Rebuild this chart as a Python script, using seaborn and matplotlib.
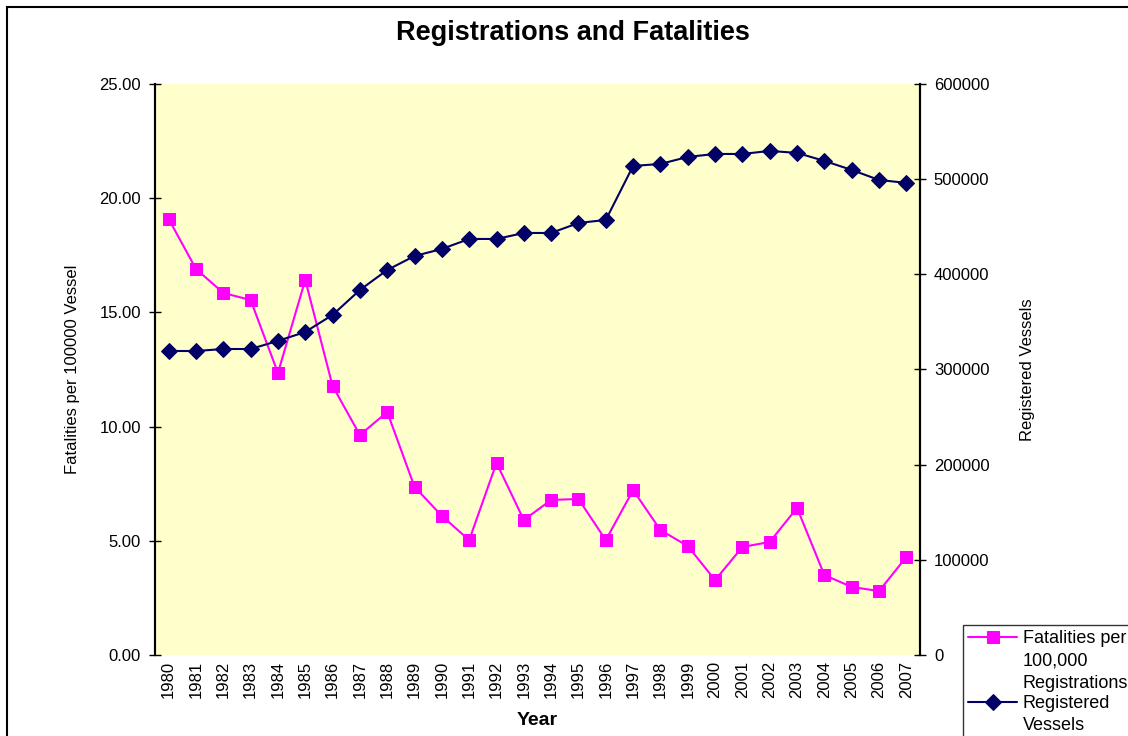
from matplotlib import pyplot as plt
from matplotlib.patches import Rectangle
import numpy as np
import seaborn as sns
import pandas as pd

# values
years = [str(y) for y in range(1980, 2008)]
fatalities = [19.09, 16.90, 15.85, 15.54, 12.35, 16.42, 11.78, 9.63, 10.64, 7.36,
              6.09, 5.03, 8.41, 5.91, 6.79, 6.83, 5.03, 7.22, 5.47, 4.77,
              3.28, 4.73, 4.95, 6.44, 3.50, 2.98, 2.80, 4.29]
registered = [319400, 319400, 321500, 321500, 330000, 339400, 357300, 383500, 404500, 419200,
              426600, 437100, 437100, 443400, 443400, 453900, 457100, 513800, 515900, 523300,
              526400, 526400, 529600, 527500, 519100, 509600, 499100, 496000]

df = pd.DataFrame({'Year': years, 'Fatalities': fatalities, 'Registered': registered})
df['pos'] = np.arange(len(years))

sns.set_style('white')
plt.rcParams['font.family'] = ['Liberation Sans', 'DejaVu Sans']
#seaborn greys out the text, reference is plain black
for key in ['text.color', 'axes.labelcolor', 'xtick.color', 'ytick.color']:
    plt.rcParams[key] = 'black'

fig = plt.figure(figsize=(11.28, 7.36), dpi=100)
ax = fig.add_axes([0.1374, 0.110, 0.6782, 0.776])
ax.set_facecolor('#FFFFCC')
ax2 = ax.twinx()

#Fatalities on the left axis, vessels on the right
sns.lineplot(data=df, x='pos', y='Fatalities', ax=ax, color='#FF00FF', marker='s',
             markersize=9, markeredgecolor='#FF00FF', linewidth=1.5,
             label='Fatalities per\n100,000\nRegistrations', legend=False)
sns.lineplot(data=df, x='pos', y='Registered', ax=ax2, color='#000066', marker='D',
             markersize=8, markeredgecolor='#000066', linewidth=1.5,
             label='Registered\nVessels', legend=False)

ax.set_xlim(-0.5, len(years) - 0.5)
ax.set_ylim(0, 25)
ax2.set_ylim(0, 600000)
ax.set_yticks(np.arange(0, 26, 5))
ax.set_yticklabels(['%.2f' % v for v in np.arange(0, 26, 5)], fontsize=12)
ax2.set_yticks(np.arange(0, 600001, 100000))
ax2.set_yticklabels([str(v) for v in range(0, 600001, 100000)], fontsize=12)
ax.set_xticks(df['pos'])
ax.set_xticklabels(years, rotation=90, fontsize=12)

ax.tick_params(axis='y', direction='inout', length=8, width=1, left=True, pad=6)
ax.tick_params(axis='x', which='major', length=0, pad=4)
ax2.tick_params(axis='y', direction='inout', length=8, width=1, right=True, pad=6)

for a in (ax, ax2):
    for s in a.spines.values():
        s.set_visible(False)
    a.spines['left'].set_visible(True)
    a.spines['right'].set_visible(True)
    a.spines['left'].set_color('black')
    a.spines['right'].set_color('black')
    a.spines['left'].set_linewidth(1.5)
    a.spines['right'].set_linewidth(1.5)

ax.set_xlabel('Year', fontsize=14, fontweight='bold', labelpad=10)
ax.set_ylabel('Fatalities per 100000 Vessel', fontsize=12, labelpad=14)
ax2.set_ylabel('Registered Vessels', fontsize=12, labelpad=22)

fig.text(0.508, 0.955, 'Registrations and Fatalities', ha='center', va='center',
         fontsize=19.5, fontweight='bold')

h1, l1 = ax.get_legend_handles_labels()
h2, l2 = ax2.get_legend_handles_labels()
leg = fig.legend(h1 + h2, l1 + l2, loc='upper left', bbox_to_anchor=(0.8537, 0.151),
                 borderaxespad=0, fontsize=13, frameon=True, fancybox=False,
                 edgecolor='black', borderpad=0.3, labelspacing=0.2,
                 handlelength=2.7, handletextpad=0.3)
leg.get_frame().set_linewidth(1)
for t in leg.get_texts():
    t.set_linespacing(1.4)
#put the marker next to the first line of each entry, like Excel does
for col in leg._legend_handle_box.get_children():
    for row in col.get_children():
        row.align = 'top'

fig.patches.append(Rectangle((0.006, -0.01), 1.0, 1.0, transform=fig.transFigure,
                             fill=False, edgecolor='black', linewidth=1.5))

fig.savefig('out.png', dpi=100)
